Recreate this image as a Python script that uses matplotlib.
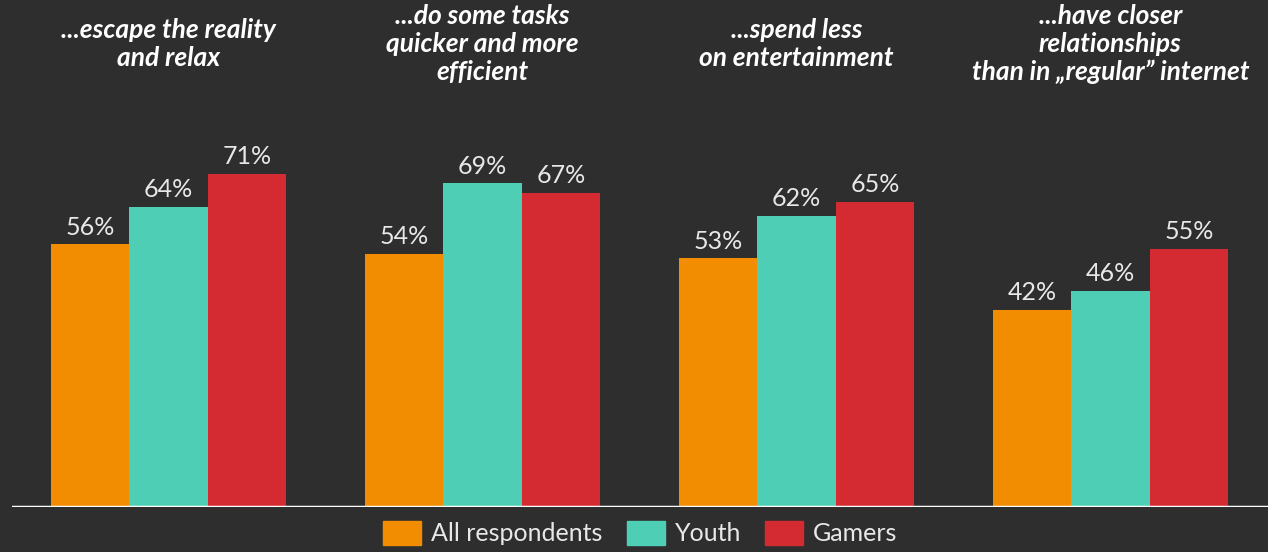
import numpy as np
import matplotlib.pyplot as plt
from matplotlib.patches import Patch

titles = ["...escape the reality\nand relax",
          "...do some tasks\nquicker and more\nefficient",
          "...spend less\non entertainment",
          "...have closer\nrelationships\nthan in \u201eregular\u201d internet"]
series = ["All respondents", "Youth", "Gamers"]
all_resp = [56, 54, 53, 42]
youth = [64, 69, 62, 46]
gamers = [71, 67, 65, 55]
colors = ["#f28c00", "#4ecfb5", "#d42a31"]
bg = "#2e2e2e"

plt.rcParams['font.family'] = ['Lato', 'DejaVu Sans']

fig = plt.figure(figsize=(12.68, 5.52), dpi=100, facecolor=bg)
ax = fig.add_axes([12/1268, 45/552, 1256/1268, 507/552])
ax.set_facecolor(bg)

x = np.arange(len(titles))
w = 0.25
for k, vals in enumerate([all_resp, youth, gamers]):
    pos = x + (k - 1) * w
    ax.bar(pos, vals, width=w, color=colors[k], label=series[k])
    for p, v in zip(pos, vals):
        ax.text(p, v + 2.1, f"{v}%", ha='center', va='baseline',
                fontsize=18, color='#e8e8e8')

ax.set_xlim(-0.498, 3.502)
ax.set_ylim(0, 108.1)
ax.axhline(0, color='white', lw=2.5)
for s in ax.spines.values():
    s.set_visible(False)
ax.set_xticks([])
ax.set_yticks([])

for xi, t in zip(x, titles):
    ax.text(xi, 108.1 - 44/4.69, t, ha='center', va='center', fontsize=19,
            color='white', fontweight='bold', style='italic', linespacing=1.2)

handles = [Patch(color=c) for c in colors]
fig.legend(handles, series, loc='center', bbox_to_anchor=(0.505, 19/552),
           ncol=3, frameon=False, fontsize=18, labelcolor='#e8e8e8',
           handlelength=1.52, handleheight=1.12, handletextpad=0.4,
           columnspacing=0.96)

fig.savefig('out.png', dpi=100, facecolor=bg)
